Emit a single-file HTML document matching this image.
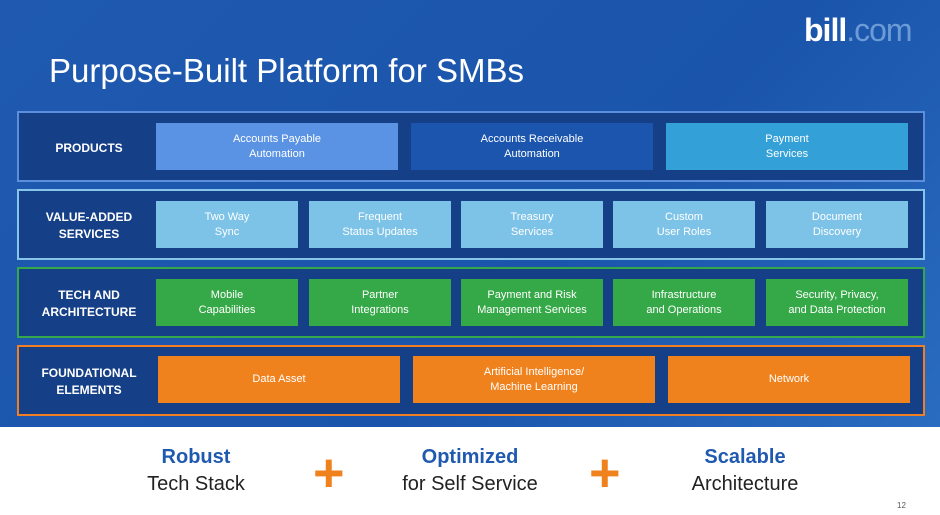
<!DOCTYPE html>
<html><head><style>
body{margin:0;width:940px;height:515px;overflow:hidden;font-family:"Liberation Sans",sans-serif;background:#fff;position:relative}
.bg{position:absolute;left:0;top:0;width:940px;height:427px;background:linear-gradient(135deg,#1f5ab0 0%,#1a55ab 60%,#2a6cc0 100%)}
.t{position:absolute;color:#fff}
.row{position:absolute;left:17px;width:904px;height:67px;background:#153f86;border:2px solid}
.lab{position:absolute;left:20px;width:100px;text-align:center;color:#fff;font-weight:bold;font-size:12px;line-height:17px}
.b{position:absolute;display:flex;align-items:center;justify-content:center;text-align:center;color:#fff;font-size:11px;line-height:15px}
.h{position:absolute;width:200px;text-align:center;font-size:20px;line-height:26px}
.plus{position:absolute;color:#f0821e;font-size:54px;font-weight:bold;line-height:50px}
</style></head><body>
<div class="bg"></div>
<div class="t" style="left:804px;top:12px;font-size:32px;font-weight:bold;letter-spacing:-1px">bill<span style="font-weight:normal;color:#6d9bd6">.com</span></div>
<div class="t" style="left:49px;top:52px;font-size:33px">Purpose-Built Platform for SMBs</div>

<div class="row" style="top:111px;border-color:#5b8fdb"><div class="lab" style="top:27px">PRODUCTS</div></div>
<div class="b" style="left:156px;top:123px;width:242px;height:47px;background:#5b93e4">Accounts Payable<br>Automation</div>
<div class="b" style="left:411px;top:123px;width:242px;height:47px;background:#1b55ad">Accounts Receivable<br>Automation</div>
<div class="b" style="left:666px;top:123px;width:242px;height:47px;background:#34a0d8">Payment<br>Services</div>

<div class="row" style="top:189px;border-color:#86c4ea"><div class="lab" style="top:18px">VALUE-ADDED<br>SERVICES</div></div>
<div class="b" style="left:156px;top:201px;width:142px;height:47px;background:#7dc3e8">Two Way<br>Sync</div>
<div class="b" style="left:309px;top:201px;width:142px;height:47px;background:#7dc3e8">Frequent<br>Status Updates</div>
<div class="b" style="left:461px;top:201px;width:142px;height:47px;background:#7dc3e8">Treasury<br>Services</div>
<div class="b" style="left:613px;top:201px;width:142px;height:47px;background:#7dc3e8">Custom<br>User Roles</div>
<div class="b" style="left:766px;top:201px;width:142px;height:47px;background:#7dc3e8">Document<br>Discovery</div>

<div class="row" style="top:267px;border-color:#34a84a"><div class="lab" style="top:18px">TECH AND<br>ARCHITECTURE</div></div>
<div class="b" style="left:156px;top:279px;width:142px;height:47px;background:#35a847">Mobile<br>Capabilities</div>
<div class="b" style="left:309px;top:279px;width:142px;height:47px;background:#35a847">Partner<br>Integrations</div>
<div class="b" style="left:461px;top:279px;width:142px;height:47px;background:#35a847">Payment and Risk<br>Management Services</div>
<div class="b" style="left:613px;top:279px;width:142px;height:47px;background:#35a847">Infrastructure<br>and Operations</div>
<div class="b" style="left:766px;top:279px;width:142px;height:47px;background:#35a847">Security, Privacy,<br>and Data Protection</div>

<div class="row" style="top:345px;border-color:#ef7f22"><div class="lab" style="top:18px;left:18px;width:104px">FOUNDATIONAL<br>ELEMENTS</div></div>
<div class="b" style="left:158px;top:356px;width:242px;height:47px;background:#f0821e">Data Asset</div>
<div class="b" style="left:413px;top:356px;width:242px;height:47px;background:#f0821e">Artificial Intelligence/<br>Machine Learning</div>
<div class="b" style="left:668px;top:356px;width:242px;height:47px;background:#f0821e">Network</div>

<div class="h" style="left:96px;top:444px;color:#1f5ab0;font-weight:bold">Robust</div>
<div class="h" style="left:96px;top:471px;color:#222">Tech Stack</div>
<div class="plus" style="left:313px;top:448px">+</div>
<div class="h" style="left:370px;top:444px;color:#1f5ab0;font-weight:bold">Optimized</div>
<div class="h" style="left:370px;top:471px;color:#222">for Self Service</div>
<div class="plus" style="left:589px;top:448px">+</div>
<div class="h" style="left:645px;top:444px;color:#1f5ab0;font-weight:bold">Scalable</div>
<div class="h" style="left:645px;top:471px;color:#222">Architecture</div>
<div style="position:absolute;left:897px;top:501px;font-size:8px;color:#555">12</div>
</body></html>
